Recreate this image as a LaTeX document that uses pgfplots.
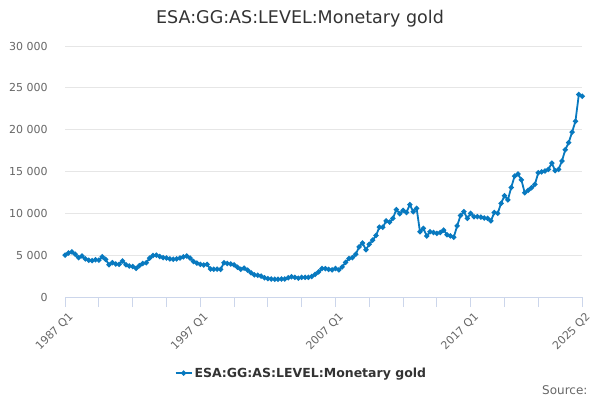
\documentclass[border=0pt]{standalone}
\usepackage{pgfplots}
\pgfplotsset{compat=1.18}
\usepackage{fontspec}
\setmainfont{DejaVu Sans}
\definecolor{series}{HTML}{0879BF}
\definecolor{axisc}{HTML}{CCD6EB}
\definecolor{gridc}{HTML}{E6E6E6}
\definecolor{labc}{HTML}{666666}
\definecolor{titc}{HTML}{333333}
\begin{document}
\begin{tikzpicture}[x=1pt,y=1pt]
\path[use as bounding box] (0,0) rectangle (600,400);
\node[text=titc,font=\fontsize{17.5}{20}\selectfont] at (300,381) {ESA:GG:AS:LEVEL:Monetary gold};
\node[text=labc,font=\fontsize{12}{14}\selectfont,anchor=east] at (591,10) {Source:};
\begin{axis}[
  at={(65.1pt,103pt)}, anchor=south west,
  scale only axis, width=517.1pt, height=251pt,
  xmin=0, xmax=153, ymin=0, ymax=30000,
  scaled y ticks=false,
  axis x line*=bottom, axis y line*=left,
  x axis line style={draw=axisc, line width=1pt, -},
  y axis line style={draw=none},
  xtick={0,40,80,120,153},
  xticklabels={1987 Q1,1997 Q1,2007 Q1,2017 Q1,2025 Q2},
  minor xtick={10,20,30,50,60,70,90,100,110,130,140},
  tick align=outside, major tick length=10pt, minor tick length=10pt,
  xtick style={draw=axisc, line width=1pt},
  minor x tick style={draw=axisc, line width=1pt},
  xticklabel style={rotate=45, anchor=east, text=labc, font=\fontsize{11}{13}\selectfont, yshift=-10pt, xshift=2pt},
  ytick={0,5000,...,30000},
  yticklabels={0,5 000,10 000,15 000,20 000,25 000,30 000},
  ytick style={draw=none},
  yticklabel style={text=labc, font=\fontsize{11}{13}\selectfont, anchor=east, xshift=-4pt},
  ymajorgrids, grid style={draw=gridc, line width=1pt},
  clip=false,
  legend style={at={(axis description cs:0.457,-0.303)}, anchor=center, draw=none, fill=none,
    font=\bfseries\fontsize{12.5}{15}\selectfont, text=titc, inner sep=0pt},
  legend image code/.code={\draw[#1,mark repeat=2,mark phase=2] plot coordinates {(0pt,0pt) (8pt,0pt) (16pt,0pt)};},
]
\addplot[series, line width=1.8pt, mark=*, mark size=1.6pt, mark options={series}] table[x=i,y=v] {
i v
0 5000
1 5250
2 5400
3 5100
4 4700
5 4900
6 4550
7 4400
8 4350
9 4450
10 4400
11 4800
12 4500
13 3850
14 4100
15 3950
16 3900
17 4300
18 3850
19 3700
20 3650
21 3430
22 3750
23 4000
24 4100
25 4650
26 4950
27 5000
28 4850
29 4700
30 4650
31 4550
32 4500
33 4550
34 4650
35 4800
36 4900
37 4650
38 4250
39 4050
40 3900
41 3820
42 3900
43 3350
44 3310
45 3330
46 3300
47 4100
48 4000
49 3950
50 3850
51 3550
52 3320
53 3450
54 3200
55 2900
56 2650
57 2600
58 2500
59 2300
60 2200
61 2150
62 2120
63 2130
64 2150
65 2150
66 2300
67 2430
68 2350
69 2250
70 2350
71 2350
72 2350
73 2450
74 2700
75 3000
76 3400
77 3390
78 3300
79 3250
80 3400
81 3250
82 3600
83 4150
84 4600
85 4700
86 5100
87 6000
88 6450
89 5650
90 6300
91 6800
92 7350
93 8350
94 8330
95 9100
96 8950
97 9400
98 10450
99 9950
100 10350
101 10100
102 11050
103 10200
104 10600
105 7800
106 8200
107 7300
108 7800
109 7700
110 7600
111 7700
112 8000
113 7450
114 7300
115 7150
116 8500
117 9750
118 10200
119 9400
120 10000
121 9600
122 9600
123 9550
124 9450
125 9400
126 9100
127 10100
128 10000
129 11200
130 12100
131 11600
132 13100
133 14450
134 14700
135 14000
136 12450
137 12750
138 13050
139 13450
140 14850
141 14950
142 15050
143 15250
144 16000
145 15100
146 15250
147 16250
148 17600
149 18450
150 19700
151 21000
152 24200
153 24000
};
\addlegendentry{ESA:GG:AS:LEVEL:Monetary gold}
\end{axis}
\end{tikzpicture}
\end{document}
